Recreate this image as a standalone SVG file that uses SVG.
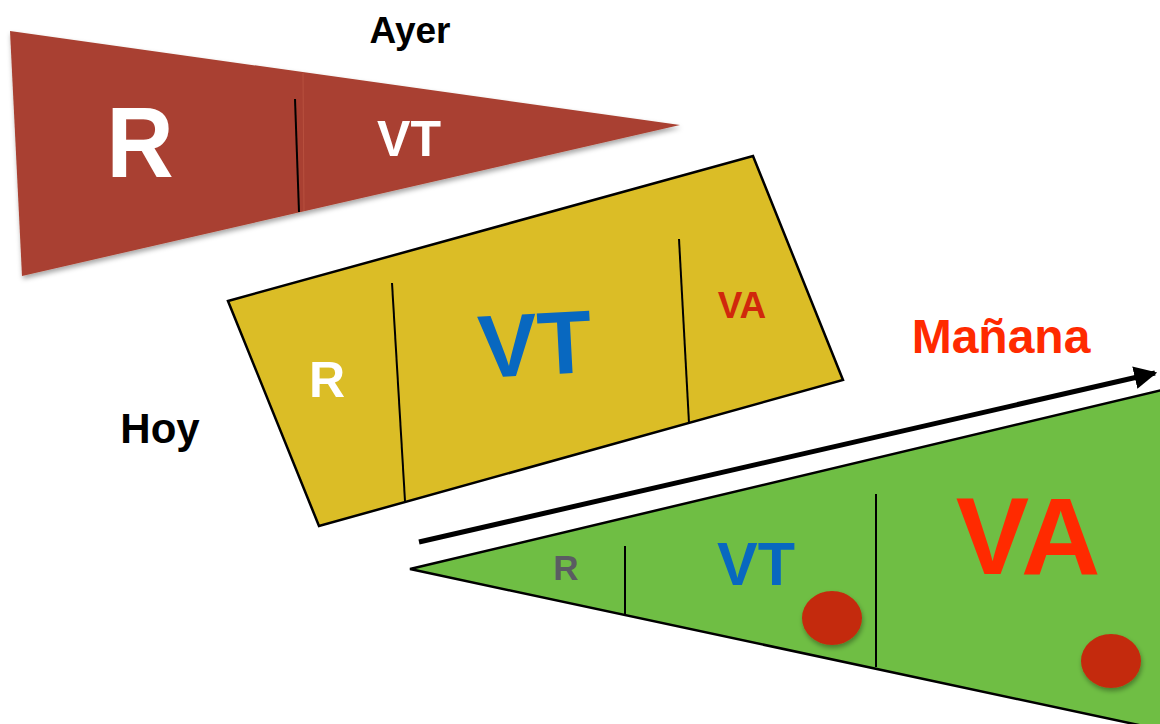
<svg xmlns="http://www.w3.org/2000/svg" width="1160" height="724" viewBox="0 0 1160 724">
<defs>
<style>
text{font-family:"Liberation Sans",Arial,sans-serif;font-weight:bold;text-anchor:middle}
.div{stroke:#000;stroke-width:2;fill:none}
.edge{stroke:#000;stroke-width:2.5}
</style>
<filter id="sh" x="-10%" y="-10%" width="130%" height="130%">
<feDropShadow dx="1" dy="3" stdDeviation="2.5" flood-color="#000" flood-opacity="0.35"/>
</filter>
<marker id="ah" viewBox="0 0 10 10" refX="9" refY="5" markerWidth="4.6" markerHeight="4.6" orient="auto" markerUnits="strokeWidth">
<path d="M0,0 L10,5 L0,10 Z" fill="#000"/>
</marker>
</defs>
<rect width="1160" height="724" fill="#fff"/>

<g id="ayer">
<polygon points="10,31 680,125 22,276" fill="#a94130" filter="url(#sh)"/>
<line x1="303" y1="73" x2="304" y2="211" stroke="#b8503e" stroke-width="1"/>
<line class="div" x1="295" y1="99" x2="299" y2="212"/>
<text x="140" y="177" font-size="100" fill="#fff" transform="translate(140 0) scale(0.93 1) translate(-140 0)">R</text>
<text x="409" y="156" font-size="50" fill="#fff">VT</text>
<text x="410" y="43" font-size="37" fill="#000">Ayer</text>
</g>

<g id="hoy">
<polygon points="228,301 753,156 843,380 319,526" fill="#dbbd26" class="edge"/>
<line class="div" x1="392" y1="283" x2="405" y2="501"/>
<line class="div" x1="679" y1="239" x2="689" y2="423"/>
<text x="327" y="397" font-size="50" fill="#fff">R</text>
<text x="535" y="375" font-size="89" fill="#0868c0" transform="rotate(-3 535 345)">VT</text>
<text x="742" y="318" font-size="37" fill="#d0280c">VA</text>
<text x="160" y="443" font-size="42" fill="#000">Hoy</text>
</g>

<g id="manana">
<polygon points="410,569 1162,390 1162,730" fill="#6fbe44" stroke="#000" stroke-width="2.5"/>
<line class="div" x1="625" y1="546" x2="625" y2="615"/>
<line class="div" x1="876" y1="494" x2="876" y2="667"/>
<text x="566" y="580" font-size="35" fill="#5a5c62">R</text>
<text x="756" y="585" font-size="61" fill="#0868c0">VT</text>
<text x="1028" y="574" font-size="110" fill="#ff2a00">VA</text>
<ellipse cx="832" cy="618" rx="30" ry="27" fill="#c42a0a" filter="url(#sh)"/>
<ellipse cx="1111" cy="661" rx="30" ry="27" fill="#c42a0a" filter="url(#sh)"/>
<text x="1001" y="353" font-size="48" fill="#ff2a00">Mañana</text>
</g>

<g id="connectors">
<line x1="419" y1="542" x2="1155" y2="373" stroke="#000" stroke-width="5" marker-end="url(#ah)"/>
</g>
</svg>
